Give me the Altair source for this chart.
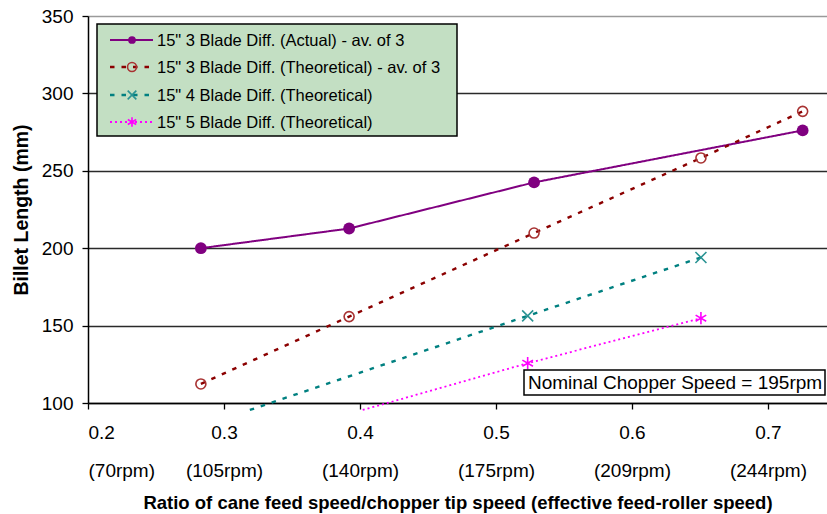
import altair as alt
import pandas as pd

# ---------------- data ----------------
series_names = [
    '15" 3 Blade Diff. (Actual) - av. of 3',
    '15" 3 Blade Diff. (Theoretical) - av. of 3',
    '15" 4 Blade Diff. (Theoretical)',
    '15" 5 Blade Diff. (Theoretical)',
]
actual_x = [0.283, 0.392, 0.528, 0.7255]
actual_y = [200.0, 212.7, 242.5, 276.1]

theo3_x = [0.283, 0.392, 0.528, 0.6507, 0.7255]
theo3_y = [112.3, 155.8, 209.8, 258.3, 288.4]

theo4_x = [0.5233, 0.6507]
theo4_y = [156.3, 194.0]
theo4_line_start = (0.319, 95.5)   # where the dashed line begins (below axis)

theo5_x = [0.5233, 0.6507]
theo5_y = [125.7, 154.8]
theo5_line_start = (0.402, 95.5)

x_ticks = [0.2, 0.3, 0.4, 0.5, 0.6, 0.7]
x_tick_labels = ["0.2", "0.3", "0.4", "0.5", "0.6", "0.7"]
rpm_labels = ["(70rpm)", "(105rpm)", "(140rpm)", "(175rpm)", "(209rpm)", "(244rpm)"]
y_ticks = [100, 150, 200, 250, 300, 350]

note_text = "Nominal Chopper Speed = 195rpm"
x_title = "Ratio of cane feed speed/chopper tip speed (effective feed-roller speed)"
y_title = "Billet Length (mm)"

# ---------------- styles ----------------
FONT = "Liberation Sans"
styles = [
    dict(line="#800080", mark="#800080", dash=[1, 0], width=2.0),
    dict(line="#8b0000", mark="#a83232", dash=[4.5, 7], width=2.4),
    dict(line="#008080", mark="#2a9393", dash=[4.5, 7], width=2.4),
    dict(line="#ff00ff", mark="#ff00ff", dash=[2, 3], width=1.8),
]
X_PATH = "M-1,-1L1,1M-1,1L1,-1"
AST_PATH = "M0,-1L0,1M-0.866,-0.5L0.866,0.5M-0.866,0.5L0.866,-0.5"

W, H = 739, 387
x_scale = alt.Scale(domain=[0.2, 0.7434], nice=False, zero=False)
y_scale = alt.Scale(domain=[100, 350], nice=False, zero=False)

expr_parts = " : ".join(
    f"datum.label == '{t}' ? '{r}'" for t, r in zip(x_tick_labels, rpm_labels)
) + " : ''"
label_expr = f"[datum.label, {expr_parts}]"

x_axis = alt.Axis(
    values=x_ticks, format=".1f", labelExpr=label_expr,
    labelFont=FONT, labelFontSize=19, labelColor="black",
    labelLineHeight=38, labelPadding=14, labelBaseline="top",
    tickSize=6, tickColor="black", domainColor="black", domainWidth=1.5,
    tickWidth=1.3, grid=False,
    title=x_title, titleFont=FONT, titleFontSize=18.5, titleFontWeight="bold",
    titleColor="black", titleBaseline="alphabetic", titleY=105,
)
y_axis = alt.Axis(
    values=y_ticks, format="d",
    labelFont=FONT, labelFontSize=19, labelColor="black", labelPadding=9,
    tickSize=6, tickColor="black", domainColor="black", domainWidth=1.5,
    tickWidth=1.3,
    grid=True, gridColor={"condition": {"test": "datum.value == 350", "value": "#9a9a9a"}, "value": "#2a2a2a"},
    gridWidth=1.3,
    title=y_title, titleFont=FONT, titleFontSize=19.5, titleFontWeight="bold",
    titleColor="black", titleBaseline="alphabetic", titleX=-61, titleAngle=-90,
)

def df(xs, ys):
    return pd.DataFrame({"x": xs, "y": ys})

line_data = [
    df(actual_x, actual_y),
    df(theo3_x, theo3_y),
    df([theo4_line_start[0]] + theo4_x, [theo4_line_start[1]] + theo4_y),
    df([theo5_line_start[0]] + theo5_x, [theo5_line_start[1]] + theo5_y),
]
point_data = [df(actual_x, actual_y), df(theo3_x, theo3_y), df(theo4_x, theo4_y), df(theo5_x, theo5_y)]

def xy():
    return dict(x=alt.X("x:Q", scale=x_scale, axis=x_axis),
                y=alt.Y("y:Q", scale=y_scale, axis=y_axis))

layers = []
# lines
for i, d in enumerate(line_data):
    s = styles[i]
    m = alt.Chart(d).mark_line(color=s["line"], strokeWidth=s["width"],
                               strokeDash=s["dash"], clip=False)
    layers.append(m.encode(**xy()))

# markers
def marker_mark(i, legend=False):
    s = styles[i]
    if i == 0:
        return dict(type="circle", color=s["mark"], size=60 if legend else 140, opacity=1)
    if i == 1:
        return dict(type="point", shape="circle", filled=False, color=s["mark"],
                    strokeWidth=1.6, size=80 if legend else 100, opacity=1)
    if i == 2:
        return dict(type="point", shape=X_PATH, filled=False, color=s["mark"],
                    strokeWidth=1.6, size=75 if legend else 121, opacity=1)
    return dict(type="point", shape=AST_PATH, filled=False, color=s["mark"],
                strokeWidth=1.6, size=95 if legend else 150, opacity=1)

for i, d in enumerate(point_data):
    mk = marker_mark(i)
    t = mk.pop("type")
    ch = alt.Chart(d)
    m = ch.mark_circle(**mk) if t == "circle" else ch.mark_point(**mk)
    layers.append(m.encode(**xy()))

# ---------------- legend box ----------------
one = pd.DataFrame({"k": [0]})
layers.append(alt.Chart(one).mark_rect(fill="#c3dfc3", stroke="black", strokeWidth=1.5).encode(
    x=alt.value(9), x2=alt.value(369), y=alt.value(8), y2=alt.value(120)))
row_y = [24, 51, 79, 106]
for i, name in enumerate(series_names):
    s = styles[i]
    ry = row_y[i]
    layers.append(alt.Chart(one).mark_rule(color=s["line"], strokeWidth=s["width"],
                                           strokeDash=s["dash"]).encode(
        x=alt.value(22), x2=alt.value(65), y=alt.value(ry)))
    mk = marker_mark(i, legend=True)
    t = mk.pop("type")
    ch = alt.Chart(one)
    m = ch.mark_circle(**mk) if t == "circle" else ch.mark_point(**mk)
    layers.append(m.encode(x=alt.value(44), y=alt.value(ry)))
    layers.append(alt.Chart(pd.DataFrame({"label": [name]})).mark_text(
        font=FONT, fontSize=16.5, color="black", align="left", baseline="middle").encode(
        x=alt.value(69), y=alt.value(ry + 1), text="label:N"))

# ---------------- note box ----------------
layers.append(alt.Chart(one).mark_rect(fill="white", stroke="black", strokeWidth=1.5).encode(
    x=alt.value(436), x2=alt.value(737), y=alt.value(354), y2=alt.value(379)))
layers.append(alt.Chart(pd.DataFrame({"label": [note_text]})).mark_text(
    font=FONT, fontSize=19, color="black", align="left", baseline="middle").encode(
    x=alt.value(440), y=alt.value(367), text="label:N"))

chart = alt.layer(*layers).properties(
    width=W, height=H,
    autosize=alt.AutoSizeParams(type="none"),
    padding={"left": 88, "top": 16, "right": 0, "bottom": 111},
).configure_view(strokeWidth=0).configure(background="white")

chart.save("out.html", embed_options={"renderer": "svg", "actions": False})
